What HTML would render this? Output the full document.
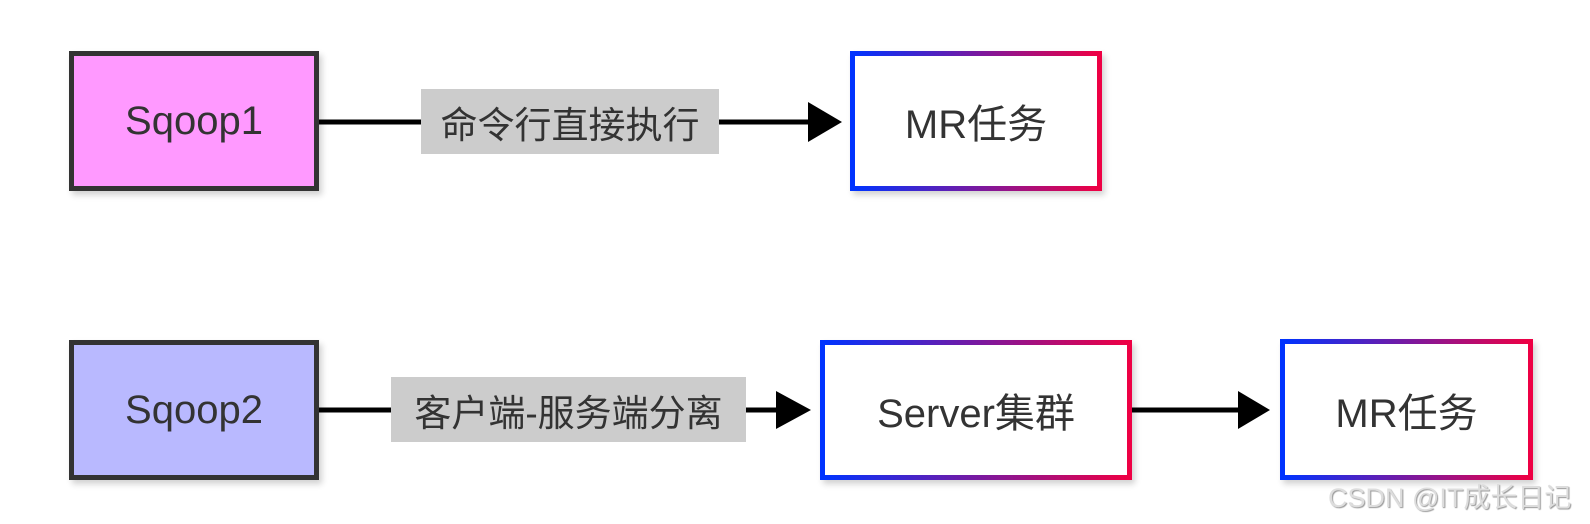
<!DOCTYPE html>
<html><head><meta charset="utf-8"><style>
body{margin:0;width:1590px;height:524px;background:#fff;position:relative;overflow:hidden;font-family:"Liberation Sans","Noto Sans CJK SC",sans-serif;color:#333}
.b{position:absolute;box-sizing:border-box;display:flex;align-items:center;justify-content:center;font-size:40px;box-shadow:3px 4px 6px rgba(0,0,0,0.18)}
.d{border:5px solid #333}
.g{border:5px solid;border-image:linear-gradient(to right,#0033ff,#ee0044) 1;background:#fff}
.lbl{position:absolute;background:#cccccc;font-size:37px;display:flex;align-items:center;justify-content:center;color:#333}
</style></head><body>
<svg width="1590" height="524" style="position:absolute;left:0;top:0">
<line x1="319" y1="122" x2="812" y2="122" stroke="#000" stroke-width="5"/>
<polygon points="808,102 842,122 808,142" fill="#000"/>
<line x1="319" y1="410" x2="780" y2="410" stroke="#000" stroke-width="5"/>
<polygon points="776,391 811,410 776,429" fill="#000"/>
<line x1="1132" y1="410" x2="1242" y2="410" stroke="#000" stroke-width="5"/>
<polygon points="1238,391 1270,410 1238,429" fill="#000"/>
</svg>
<div class="b d" style="left:69px;top:51px;width:250px;height:140px;background:#ff99ff">Sqoop1</div>
<div class="b g" style="left:850px;top:51px;width:252px;height:140px">MR任务</div>
<div class="b d" style="left:69px;top:340px;width:250px;height:140px;background:#b9b9ff">Sqoop2</div>
<div class="b g" style="left:820px;top:340px;width:312px;height:140px">Server集群</div>
<div class="b g" style="left:1280px;top:339px;width:253px;height:141px">MR任务</div>
<div class="lbl" style="left:421px;top:89px;width:298px;height:65px">命令行直接执行</div>
<div class="lbl" style="left:391px;top:377px;width:355px;height:65px">客户端-服务端分离</div>
<div style="position:absolute;left:1328px;top:476px;font-size:27px;color:#ddd;text-shadow:1px 1px 1px #999">CSDN @IT成长日记</div>
</body></html>
